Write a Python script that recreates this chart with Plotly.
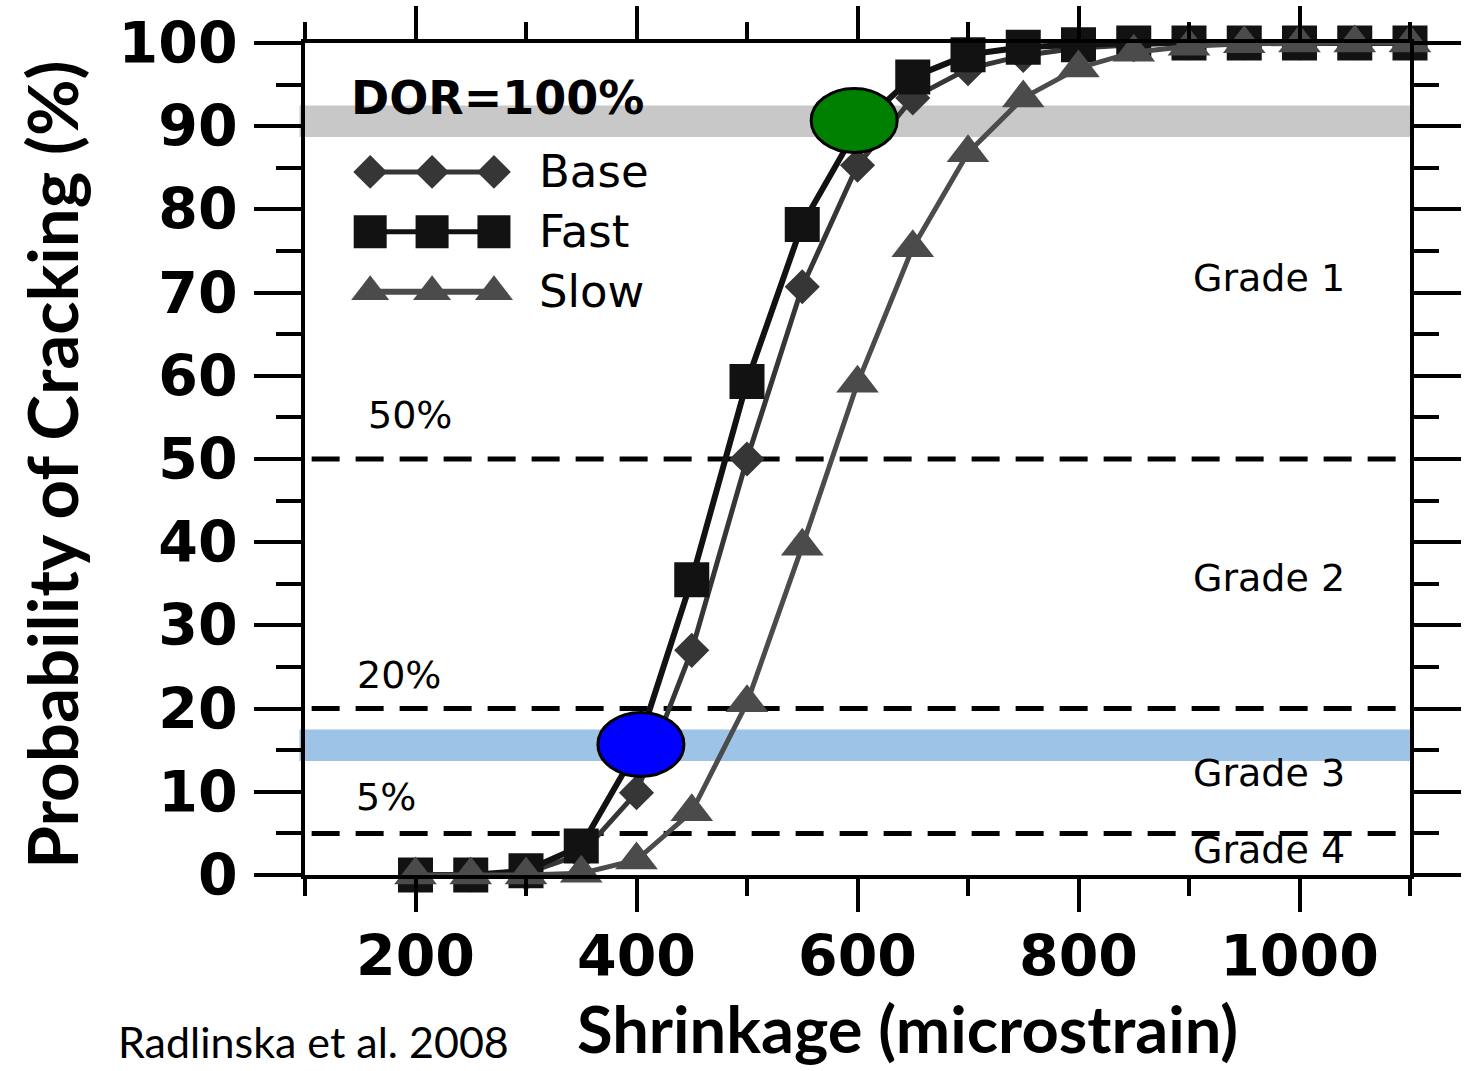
import plotly.graph_objects as go

# ---------------- data ----------------
shrinkage = [200, 250, 300, 350, 400, 450, 500, 550, 600, 650, 700, 750, 800, 850, 900, 950, 1000, 1050, 1100]
base = [0, 0, 0.2, 2.5, 9.9, 27, 50, 70.7, 85.3, 93.4, 96.9, 98.5, 99.4, 99.8, 100, 100, 100, 100, 100]
fast = [0, 0, 0.5, 3.5, 15, 35.5, 59.3, 78.2, 89.8, 95.9, 98.6, 99.5, 99.8, 100, 100, 100, 100, 100, 100]
slow = [0, 0, 0, 0.2, 1.8, 7.6, 20.7, 39.5, 59.1, 75.4, 86.8, 93.4, 97, 98.9, 99.6, 99.9, 100, 100, 100]

series_names = ["Base", "Fast", "Slow"]
threshold_levels = [50, 20, 5]
threshold_labels = ["50%", "20%", "5%"]
grade_labels = ["Grade 1", "Grade 2", "Grade 3", "Grade 4"]
grade_label_y = [71.8, 35.7, 12.3, 3.0]
band_gray = [88.7, 92.5]
band_blue = [13.7, 17.5]
highlight_x = [597, 404]
highlight_y = [90.7, 15.7]
x_ticks = [200, 400, 600, 800, 1000]
y_ticks = [0, 10, 20, 30, 40, 50, 60, 70, 80, 90, 100]

# ---------------- styles ----------------
C_BASE = "#363636"
C_FAST = "#121212"
C_SLOW = "#4b4b4b"
TICKFONT = dict(family="DejaVu Sans", size=57, color="black", weight="bold")
LABFONT = dict(family="DejaVu Sans", size=38, color="black")

fig = go.Figure()

fig.add_trace(go.Scatter(x=shrinkage, y=base, name="Base", mode="lines+markers",
                         line=dict(color=C_BASE, width=5),
                         marker=dict(symbol="diamond", size=27, color=C_BASE),
                         cliponaxis=False, showlegend=False))
fig.add_trace(go.Scatter(x=shrinkage, y=fast, name="Fast", mode="lines+markers",
                         line=dict(color=C_FAST, width=6),
                         marker=dict(symbol="square", size=35, color=C_FAST),
                         cliponaxis=False, showlegend=False))
fig.add_trace(go.Scatter(x=shrinkage, y=slow, name="Slow", mode="lines+markers",
                         line=dict(color=C_SLOW, width=5),
                         marker=dict(symbol="triangle-up", size=37, color=C_SLOW),
                         cliponaxis=False, showlegend=False))

# ---------------- hand-drawn legend (overlay axes in 0..1 units) ----------------
leg_x = [0.059, 0.115, 0.171]
leg_rows = [0.845, 0.773, 0.701]
leg_syms = [("diamond", 26, C_BASE, 5), ("square", 33, C_FAST, 5), ("triangle-up", 33, C_SLOW, 6)]
for name, ry, (sym, sz, col, lw) in zip(series_names, leg_rows, leg_syms):
    fig.add_trace(go.Scatter(x=leg_x, y=[ry] * 3, mode="lines+markers",
                             line=dict(color=col, width=lw),
                             marker=dict(symbol=sym, size=sz, color=col),
                             xaxis="x2", yaxis="y2", showlegend=False, hoverinfo="skip"))
    fig.add_annotation(x=0.21, y=ry, xref="x2", yref="y2", text=name, showarrow=False,
                       xanchor="left", yanchor="middle",
                       font=dict(family="DejaVu Sans", size=45, color="black"))

fig.add_annotation(x=0.04, y=0.934, xref="x2", yref="y2", text="DOR=100%", showarrow=False,
                   xanchor="left", yanchor="middle",
                   font=dict(family="DejaVu Sans", size=46, color="black", weight="bold"))

# ---------------- bands, threshold lines, highlights ----------------
for (y0, y1), col in [(band_gray, "#c8c8c8"), (band_blue, "#9dc3e6")]:
    fig.add_shape(type="rect", xref="x domain", yref="y", x0=-0.005, x1=1, y0=y0, y1=y1,
                  fillcolor=col, line=dict(width=0), layer="below")

for lvl in threshold_levels:
    fig.add_shape(type="line", xref="x domain", yref="y", x0=0.006, x1=0.995, y0=lvl, y1=lvl,
                  line=dict(color="black", width=5, dash="28px,16px"), layer="below")

label_pos = {"50%": (195, 55.3), "20%": (185, 24.0), "5%": (173, 9.4)}
for t in threshold_labels:
    lx, ly = label_pos[t]
    fig.add_annotation(x=lx, y=ly, xref="x", yref="y", text=t, showarrow=False,
                       xanchor="center", yanchor="middle", font=LABFONT)

for t, gy in zip(grade_labels, grade_label_y):
    fig.add_annotation(x=972, y=gy, xref="x", yref="y", text=t, showarrow=False,
                       xanchor="center", yanchor="middle", font=LABFONT)

for hx, hy, col in zip(highlight_x, highlight_y, ["#008000", "#0000ff"]):
    fig.add_shape(type="circle", xref="x", yref="y", xsizemode="pixel", ysizemode="pixel",
                  xanchor=hx, yanchor=hy, x0=-43, x1=43, y0=-32, y1=32,
                  fillcolor=col, line=dict(color="black", width=3), layer="above")

# ---------------- titles & source ----------------
fig.add_annotation(x=-0.229, y=0.493, xref="paper", yref="paper", text="Probability of Cracking (%)",
                   textangle=-90, showarrow=False, xanchor="center", yanchor="middle",
                   font=dict(family="Lato", size=69, color="black", weight="bold"))
fig.add_annotation(x=0.545, y=-0.2325, xref="paper", yref="paper", text="Shrinkage (microstrain)",
                   showarrow=False, xanchor="center", yanchor="bottom", borderpad=0,
                   font=dict(family="Lato", size=65, color="black", weight="bold"))
fig.add_annotation(x=-0.170, y=-0.2325, xref="paper", yref="paper", text="Radlinska et al. 2008",
                   showarrow=False, xanchor="left", yanchor="bottom", borderpad=0,
                   font=dict(family="Lato", size=43, color="black"))

# ---------------- axes ----------------
fig.update_layout(
    template="none",
    width=1465, height=1071,
    margin=dict(l=305, r=55, t=43, b=196),
    plot_bgcolor="white", paper_bgcolor="white",
    showlegend=False,
    xaxis=dict(range=[100, 1100], tickmode="array", tickvals=x_ticks, ticktext=[str(v) for v in x_ticks],
               ticks="outside", ticklen=33, tickwidth=4, tickcolor="black", ticklabelstandoff=-4,
               showline=True, linewidth=4, linecolor="black", mirror="allticks",
               showgrid=False, zeroline=False, tickfont=TICKFONT,
               minor=dict(tickmode="linear", tick0=0, dtick=100, ticks="outside", ticklen=17,
                          tickwidth=4, tickcolor="black", showgrid=False)),
    yaxis=dict(range=[0, 100], tickmode="array", tickvals=y_ticks, ticktext=[str(v) for v in y_ticks],
               ticks="outside", ticklen=47, tickwidth=4, tickcolor="black", ticklabelstandoff=5,
               showline=True, linewidth=4, linecolor="black", mirror="allticks",
               showgrid=False, zeroline=False, tickfont=TICKFONT,
               minor=dict(tickmode="linear", tick0=0, dtick=5, ticks="outside", ticklen=25,
                          tickwidth=4, tickcolor="black", showgrid=False)),
    xaxis2=dict(domain=[0, 1], range=[0, 1], overlaying="x", anchor="y2", visible=False),
    yaxis2=dict(domain=[0, 1], range=[0, 1], overlaying="y", anchor="x2", visible=False),
)

fig.write_html("out.html", config={"displayModeBar": False},
               post_script="document.body.style.margin='0';")
